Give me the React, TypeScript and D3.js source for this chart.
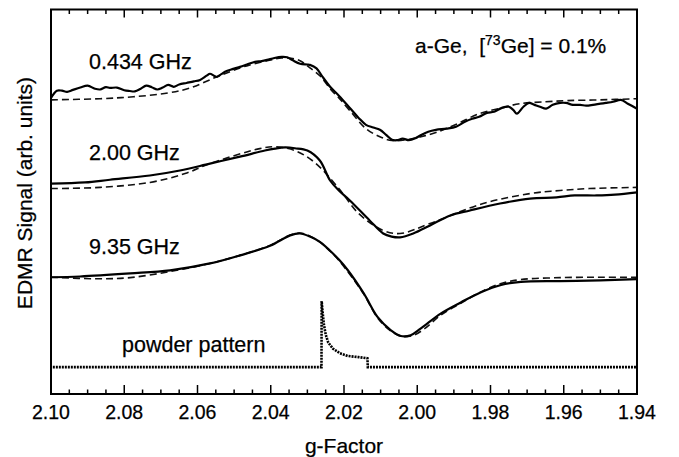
import React from "react";
import * as d3 from "d3";

// g-factor values and signals (arb. units) for each measured frequency
const g434 = [2.1, 2.0984, 2.097, 2.0956, 2.094, 2.092, 2.09, 2.088, 2.0866, 2.085, 2.0839, 2.082, 2.08, 2.0785, 2.0771, 2.0755, 2.074, 2.0725, 2.071, 2.0695, 2.068, 2.0665, 2.065, 2.063, 2.061, 2.0593, 2.0575, 2.0566, 2.0555, 2.0547, 2.0535, 2.0525, 2.0505, 2.0484, 2.0465, 2.0443, 2.0425, 2.041, 2.039, 2.037, 2.0355, 2.034, 2.032, 2.03, 2.0293, 2.0275, 2.026, 2.0238, 2.0214, 2.0184, 2.016, 2.014, 2.012, 2.0102, 2.0085, 2.0069, 2.0055, 2.004, 2.0023, 2.0005, 1.9992, 1.997, 1.9949, 1.992, 1.9894, 1.987, 1.985, 1.9831, 1.981, 1.979, 1.9769, 1.975, 1.9738, 1.9728, 1.971, 1.9695, 1.968, 1.9665, 1.9648, 1.963, 1.961, 1.9594, 1.9575, 1.9555, 1.9539, 1.952, 1.95, 1.9485, 1.9465, 1.9444, 1.9425, 1.94];
const s434 = [77.1, 79.0, 79.0, 78.7, 79.2, 79.8, 80.3, 79.5, 79.3, 79.9, 79.7, 79.8, 79.1, 78.9, 78.8, 79.5, 80.3, 79.9, 79.3, 79.8, 80.5, 80.0, 80.6, 81.0, 81.4, 81.8, 82.9, 83.4, 82.9, 82.6, 83.3, 83.9, 84.6, 85.2, 85.8, 86.5, 86.7, 87.0, 87.5, 87.8, 87.7, 86.9, 86.0, 85.8, 85.7, 84.8, 82.8, 80.0, 77.7, 74.5, 71.9, 70.1, 69.4, 68.8, 67.5, 66.2, 66.1, 66.5, 66.1, 66.6, 67.3, 68.3, 68.8, 69.1, 69.6, 70.9, 71.7, 72.2, 73.2, 73.5, 74.5, 74.8, 74.0, 73.0, 74.8, 75.8, 75.3, 74.8, 74.3, 75.3, 75.8, 75.8, 75.3, 75.3, 75.1, 75.3, 75.6, 75.8, 76.1, 76.6, 75.6, 74.3];
const gFit434 = [2.1, 2.0866, 2.0775, 2.068, 2.062, 2.0547, 2.0484, 2.0457, 2.04, 2.037, 2.0345, 2.032, 2.0293, 2.0266, 2.0238, 2.0214, 2.0184, 2.014, 2.0102, 2.0069, 2.003, 1.999, 1.9949, 1.989, 1.9831, 1.977, 1.972, 1.965, 1.959, 1.95, 1.94];
const fit434 = [76.6, 76.9, 77.4, 78.4, 79.7, 82.6, 84.9, 85.7, 87.0, 87.5, 87.4, 86.8, 84.9, 82.9, 79.5, 77.1, 73.8, 69.1, 67.0, 66.0, 66.2, 67.0, 68.1, 70.4, 73.0, 74.5, 75.6, 76.1, 76.4, 76.6, 76.9];

const g200 = [2.1, 2.0907, 2.0839, 2.073, 2.0648, 2.0566, 2.0484, 2.0416, 2.0388, 2.0361, 2.0334, 2.03, 2.0266, 2.0238, 2.0214, 2.0184, 2.013, 2.0093, 2.007, 2.0047, 2.0011, 1.9965, 1.991, 1.9856, 1.9774, 1.9692, 1.962, 1.957, 1.951, 1.946, 1.94];
const s200 = [54.8, 55.1, 55.8, 56.9, 58.2, 60.0, 61.8, 63.4, 63.9, 64.2, 64.0, 63.4, 60.8, 55.6, 53.0, 50.4, 45.2, 41.8, 41.0, 40.8, 41.8, 43.9, 46.5, 47.8, 49.6, 50.9, 51.2, 51.7, 51.7, 51.9, 52.5];
const gFit200 = [2.1, 2.0866, 2.073, 2.0634, 2.0566, 2.043, 2.0388, 2.0334, 2.028, 2.0214, 2.016, 2.0093, 2.0047, 1.9965, 1.982, 1.9692, 1.961, 1.953, 1.94];
const fit200 = [53.5, 53.8, 55.1, 57.4, 60.0, 63.9, 64.4, 63.4, 60.3, 53.5, 47.0, 42.6, 41.8, 44.4, 49.6, 52.2, 53.0, 53.5, 53.8];

const g935 = [2.1, 2.0921, 2.0784, 2.0675, 2.0566, 2.0484, 2.0402, 2.0347, 2.032, 2.0293, 2.0266, 2.0238, 2.0214, 2.019, 2.0146, 2.0108, 2.0072, 2.0045, 2.0018, 1.999, 1.9935, 1.988, 1.9826, 1.9771, 1.9717, 1.961, 1.95, 1.94];
const s935 = [30.4, 30.6, 31.4, 32.2, 34.0, 36.1, 38.6, 41.3, 41.8, 41.0, 39.6, 37.3, 35.0, 32.3, 26.2, 20.0, 16.6, 15.1, 15.3, 17.1, 21.0, 23.9, 26.5, 28.4, 29.2, 29.4, 29.6, 29.9];
const gFit935 = [2.1, 2.0866, 2.0784, 2.0675, 2.0566, 2.0484, 2.0402, 2.0347, 2.032, 2.0293, 2.0266, 2.0238, 2.0214, 2.0146, 2.0108, 2.0072, 2.004, 2.001, 1.998, 1.9935, 1.988, 1.9826, 1.9771, 1.9717, 1.961, 1.95, 1.94];
const fit935 = [30.4, 30.0, 30.3, 31.9, 34.0, 36.1, 38.7, 41.4, 41.9, 41.1, 39.6, 37.2, 34.8, 26.0, 19.8, 16.4, 15.0, 15.3, 17.0, 20.6, 23.7, 26.6, 28.8, 29.8, 30.3, 30.4, 30.4];

const gPowder = [2.0995, 2.02615, 2.0261, 2.0258, 2.0255, 2.025, 2.0243, 2.023, 2.0211, 2.019, 2.016, 2.0136, 2.0135, 1.94];
const sPowder = [7.0, 7.0, 24.2, 21.0, 18.2, 15.5, 13.4, 11.8, 10.6, 9.9, 9.6, 9.3, 7.0, 7.0];

const xTicksMajor = [2.1, 2.08, 2.06, 2.04, 2.02, 2.0, 1.98, 1.96, 1.94];
const xTickLabels = ["2.10", "2.08", "2.06", "2.04", "2.02", "2.00", "1.98", "1.96", "1.94"];
const curveLabels = ["0.434 GHz", "2.00 GHz", "9.35 GHz", "powder pattern"];

const W = 679, H = 457;
const L = 51, R = 637, T = 9.5, B = 394;
const FONT = "Liberation Sans, Arial, Helvetica, sans-serif";

export default function App() {
  const x = d3.scaleLinear().domain([2.1, 1.94]).range([L, R]);
  const y = d3.scaleLinear().domain([0, 100]).range([B, T + 0.5]);
  const smooth = d3.line<[number, number]>().x(d => x(d[0])).y(d => y(d[1])).curve(d3.curveCatmullRom.alpha(0.5));
  const lin = d3.line<[number, number]>().x(d => x(d[0])).y(d => y(d[1]));
  const zip = (a: number[], b: number[]) => a.map((v, i) => [v, b[i]] as [number, number]);

  const minor = d3.range(0, 33).map(i => 2.1 - i * 0.005).filter(v => !xTicksMajor.some(m => Math.abs(m - v) < 1e-6));

  const solids = [zip(g434, s434), zip(g200, s200), zip(g935, s935)];
  const fits = [zip(gFit434, fit434), zip(gFit200, fit200), zip(gFit935, fit935)];
  const labelPos = [[89, 69], [89, 160], [89, 254], [122, 352]];
  const txt = { fill: "#000", stroke: "#000", strokeWidth: 0.25 };

  return (
    <svg width={W} height={H} style={{ position: "absolute", left: 0, top: 0, background: "#fff" }} fontFamily={FONT}>
      <rect x={0} y={0} width={W} height={H} fill="#fff" />
      {fits.map((d, i) => (
        <path key={"f" + i} d={smooth(d) || ""} fill="none" stroke="#111" strokeWidth={1.6} strokeDasharray="7,4" />
      ))}
      {solids.map((d, i) => (
        <path key={"s" + i} d={smooth(d) || ""} fill="none" stroke="#000" strokeWidth={2.2} strokeLinejoin="round" />
      ))}
      <path d={lin(zip(gPowder, sPowder)) || ""} fill="none" stroke="#000" strokeWidth={2.6} strokeDasharray="2,1" />
      <rect x={L} y={T} width={R - L} height={B - T} fill="none" stroke="#000" strokeWidth={2} />
      {xTicksMajor.map(t => (
        <g key={"M" + t}>
          <line x1={x(t)} x2={x(t)} y1={B} y2={B - 9} stroke="#000" strokeWidth={1.5} />
          <line x1={x(t)} x2={x(t)} y1={T} y2={T + 8} stroke="#000" strokeWidth={1.5} />
        </g>
      ))}
      {minor.map(t => (
        <g key={"m" + t}>
          <line x1={x(t)} x2={x(t)} y1={B} y2={B - 4.5} stroke="#000" strokeWidth={1.5} />
          <line x1={x(t)} x2={x(t)} y1={T} y2={T + 4.5} stroke="#000" strokeWidth={1.5} />
        </g>
      ))}
      {xTicksMajor.map((t, i) => (
        <text key={"l" + t} x={x(t)} y={418.5} textAnchor="middle" fontSize={19.5} {...txt}>{xTickLabels[i]}</text>
      ))}
      <text x={(L + R) / 2} y={453} textAnchor="middle" fontSize={21} {...txt}>g-Factor</text>
      <text transform={`translate(32,193) rotate(-90)`} textAnchor="middle" fontSize={21} {...txt}>EDMR Signal (arb. units)</text>
      {curveLabels.map((s, i) => (
        <text key={s} x={labelPos[i][0]} y={labelPos[i][1]} fontSize={21.5} {...txt}>{s}</text>
      ))}
      <text x={415} y={53} fontSize={21} {...txt}>
        a-Ge,{"\u00a0\u00a0"}[<tspan fontSize={14} dy={-8}>73</tspan><tspan dy={8}>Ge] = 0.1%</tspan>
      </text>
    </svg>
  );
}
